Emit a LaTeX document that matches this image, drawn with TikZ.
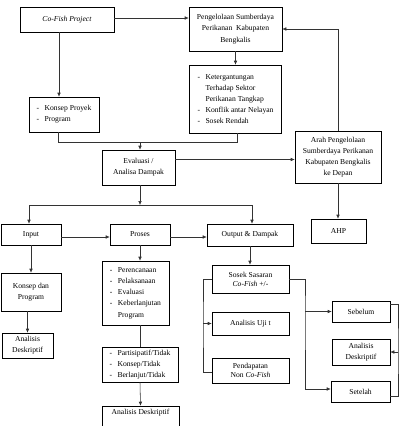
\documentclass[tikz,border=0pt]{standalone}
\usepackage{fontspec}
\setmainfont{Liberation Serif}
\usetikzlibrary{arrows.meta,calc,shadows}
\newcommand{\li}[1]{\makebox[8pt][l]{-}#1}
\newcommand{\lc}[1]{\hspace*{8pt}#1}
\begin{document}
\begin{tikzpicture}[x=1pt,y=-1pt,
  box/.style={draw,line width=0.55pt,fill=white,inner sep=1pt,align=center,
    font=\fontsize{7.6}{11.2}\selectfont,
    drop shadow={shadow xshift=0.9pt,shadow yshift=-0.9pt,fill=black!45,opacity=1}},
  lbox/.style={box,align=left},
  conn/.style={line width=0.55pt,draw=black!80},
  arr/.style={conn,-{Latex[length=4pt,width=3.6pt]}}]
\useasboundingbox (0,0) rectangle (402,426);

% nodes
\node[box,minimum width=94pt,minimum height=25pt] (cofish) at (67,19.5) {\textit{Co-Fish Project}};
\node[box,minimum width=93pt,minimum height=44pt] (peng) at (235.5,29) {Pengelolaan Sumberdaya\\Perikanan\ \ Kabupaten\\Bengkalis};
\node[lbox,minimum width=92pt,minimum height=68pt] (keterg) at (235.5,99)
  {\li{Ketergantungan}\\\lc{Terhadap Sektor}\\\lc{Perikanan Tangkap}\\\li{Konflik antar Nelayan}\\\li{Sosek Rendah}};
\node[lbox,minimum width=70pt,minimum height=35pt] (konsep) at (64,114.5)
  {\li{Konsep Proyek}\\\li{Program}};
\node[box,minimum width=73pt,minimum height=35pt] (eval) at (138.5,167.5) {Evaluasi /\\Analisa Dampak};
\node[box,minimum width=86pt,minimum height=52pt] (arah) at (338,157)
  {Arah Pengelolaan\\Sumberdaya Perikanan\\Kabupaten Bengkalis\\ke Depan};
\node[box,minimum width=60pt,minimum height=21pt] (input) at (31,234.5) {Input};
\node[box,minimum width=60pt,minimum height=21pt] (proses) at (140,234.5) {Proses};
\node[box,minimum width=86pt,minimum height=22pt] (output) at (250,235) {Output \& Dampak};
\node[box,minimum width=55pt,minimum height=24pt] (ahp) at (338.5,231) {AHP};
\node[box,minimum width=60pt,minimum height=38pt] (kdp) at (31,292) {Konsep dan\\Program};
\node[box,minimum width=51pt,minimum height=25pt] (ad1) at (27.5,345.5) {Analisis\\Deskriptif};
\node[lbox,minimum width=67pt,minimum height=64pt] (list1) at (135.5,293)
  {\li{Perencanaan}\\\li{Pelaksanaan}\\\li{Evaluasi}\\\li{Keberlanjutan}\\\lc{Program}};
\node[lbox,minimum width=76pt,minimum height=35pt] (list2) at (140,364.5)
  {\li{Partisipatif/Tidak}\\\li{Konsep/Tidak}\\\li{Berlanjut/Tidak}};
\node[box,minimum width=77pt,minimum height=24pt] (ad2) at (140.5,418) {Analisis Deskriptif\\[2pt]};
\node[box,minimum width=77pt,minimum height=28pt] (sosek) at (250.5,279) {Sosek Sasaran\\[-2pt]\textit{Co-Fish} +/-};
\node[box,minimum width=77pt,minimum height=23pt] (uji) at (250.5,323.5) {Analisis Uji t};
\node[box,minimum width=77pt,minimum height=25pt] (pend) at (250.5,370.5) {Pendapatan\\[-2pt]Non \textit{Co-Fish}};
\node[box,minimum width=58pt,minimum height=21pt] (sebelum) at (361,311.5) {Sebelum};
\node[box,minimum width=58pt,minimum height=26pt] (ad3) at (361,352) {Analisis\\Deskriptif};
\node[box,minimum width=59pt,minimum height=21pt] (setelah) at (360.5,391.5) {Setelah};

% helper coordinates
\coordinate (j1) at (140,142);
\coordinate (j2) at (140,205);
\coordinate (lb) at (203,323.5);
\coordinate (rb) at (305,311.5);
\coordinate (rr) at (398,352);

% connectors
\draw[arr] ([yshift=1.5pt]cofish.east) -- ([yshift=1.5pt]cofish.east -| peng.west);
\draw[arr] ([xshift=-8pt]cofish.south) -- ([xshift=-8pt]cofish.south |- konsep.north);
\draw[arr] (peng.south) -- (keterg.north);
\draw[conn] ([xshift=-6pt]konsep.south) |- (j1);
\draw[conn] ([xshift=1.5pt]keterg.south) |- (j1);
\draw[arr] (j1) -- (j1 |- eval.north);
\draw[arr] ([yshift=8pt]eval.east) -- ([yshift=8pt]eval.east -| arah.west);
\draw[arr] (arah.north) |- (peng.east);
\draw[arr] (arah.south) -- (arah.south |- ahp.north);
\draw[arr] (j2 |- eval.south) -- (j2);
\draw[arr] (j2) -| ([xshift=-2pt]input.north);
\draw[arr] (j2) -| ([xshift=2pt]output.north);
\draw[arr] ([yshift=-2.5pt]input.east) -- ([yshift=-2.5pt]input.east -| proses.west);
\draw[arr] ([yshift=-2.5pt]proses.east) -- ([yshift=-2.5pt]proses.east -| output.west);
\draw[arr] (input.south) -- (kdp.north);
\draw[arr] (kdp.south -| ad1.north) -- (ad1.north);
\draw[arr] (proses.south) -- (proses.south |- list1.north);
\draw[conn] (proses.south |- list1.south) -- (proses.south |- list2.north);
\draw[arr] (list2.south) -- (ad2.north);
\draw[arr] (output.south) -- (output.south |- sosek.north);
\draw[conn] (sosek.west) -| (lb) |- ([yshift=-1.5pt]pend.west);
\draw[arr] (lb) -- (uji.west);
\draw[arr] (sosek.east) -| (rb) |- ([yshift=2.5pt]setelah.west);
\draw[arr] (rb) -- (sebelum.west);
\draw[conn] ([yshift=7.5pt]sebelum.east) -| (rr) |- ([yshift=-4.5pt]setelah.east);
\draw[arr] (rr) -- (ad3.east);
\end{tikzpicture}
\end{document}
